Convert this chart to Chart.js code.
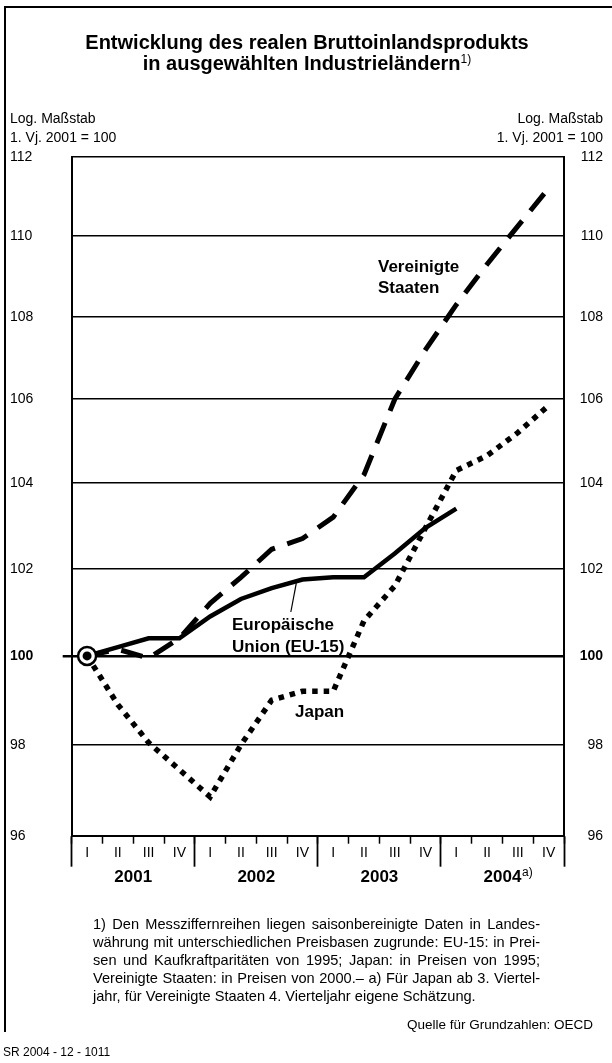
<!DOCTYPE html>
<html><head><meta charset="utf-8">
<script src="https://cdn.jsdelivr.net/npm/chart.js@4.4.1/dist/chart.umd.min.js"></script>
<style>
html,body{margin:0;padding:0;background:#fff;}
#wrap{position:relative;width:612px;height:1063px;overflow:hidden;font-family:"Liberation Sans",Arial,Helvetica,sans-serif;color:#000;background:#fff;}
canvas{position:absolute;left:0;top:0;}
.t{position:absolute;white-space:nowrap;line-height:20px;}
.b{font-weight:bold;}
.fn{position:absolute;left:93px;width:447px;font-size:14.6px;line-height:18px;white-space:nowrap;text-align:justify;text-align-last:justify;}
.fn.last{text-align:left;text-align-last:left;}
</style></head><body>
<div id="wrap">
<div style="position:absolute;left:4px;top:6px;width:608px;height:0;border-top:2.5px solid #000;"></div>
<div style="position:absolute;left:4px;top:6px;width:0;height:1026px;border-left:2.5px solid #000;"></div>
<canvas id="c" width="612" height="1063"></canvas>
<div class="t b" style="left:0;width:614px;text-align:center;top:32px;font-size:20px;">Entwicklung des realen Bruttoinlandsprodukts</div>
<div class="t b" style="left:0;width:614px;text-align:center;top:53px;font-size:20px;">in ausgewählten Industrieländern<span style="font-size:12px;font-weight:normal;position:relative;top:-7px;">1)</span></div>
<div class="t" style="left:10px;top:108px;font-size:14px;">Log. Maßstab</div>
<div class="t" style="left:10px;top:127px;font-size:14px;">1. Vj. 2001 = 100</div>
<div class="t" style="right:9px;top:108px;font-size:14px;text-align:right;">Log. Maßstab</div>
<div class="t" style="right:9px;top:127px;font-size:14px;text-align:right;">1. Vj. 2001 = 100</div>
<div class="t b" style="left:378px;top:257px;font-size:17px;">Vereinigte</div>
<div class="t b" style="left:378px;top:278px;font-size:17px;">Staaten</div>
<div class="t b" style="left:232px;top:615px;font-size:17px;">Europäische</div>
<div class="t b" style="left:232px;top:637px;font-size:17px;">Union (EU-15)</div>
<div class="t b" style="left:295px;top:702px;font-size:17px;">Japan</div>
<div id="sup" class="t" style="top:862px;font-size:12px;">a)</div>
<div class="fn" style="top:915px;">1) Den Messziffernreihen liegen saisonbereinigte Daten in Landes-</div>
<div class="fn" style="top:933px;">währung mit unterschiedlichen Preisbasen zugrunde: EU-15: in Prei-</div>
<div class="fn" style="top:951px;">sen und Kaufkraftparitäten von 1995; Japan: in Preisen von 1995;</div>
<div class="fn" style="top:969px;">Vereinigte Staaten: in Preisen von 2000.– a) Für Japan ab 3. Viertel-</div>
<div class="fn last" style="top:987px;">jahr, für Vereinigte Staaten 4. Vierteljahr eigene Schätzung.</div>
<div class="t" style="right:19px;top:1015px;font-size:13.5px;">Quelle für Grundzahlen: OECD</div>
<div class="t" style="left:3px;top:1042px;font-size:12px;">SR 2004 - 12 - 1011</div>
</div>
<script>
const quarterLabels = ['I','II','III','IV','I','II','III','IV','I','II','III','IV','I','II','III','IV'];
const yearLabels = ['2001','2002','2003','2004'];
const yTickValues = [96,98,100,102,104,106,108,110,112];
const euValues = [100, 100.2, 100.4, 100.4, 100.9, 101.3, 101.55, 101.75, 101.8, 101.8, 102.35, 102.95, 103.4, null, null, null];
const usValues = [100, 100.15, 99.95, 100.4, 101.2, 101.8, 102.45, 102.7, 103.2, 104.2, 106.0, 107.2, 108.3, 109.3, 110.25, 111.2];
const japanValues = [100, 98.9, 98.05, 97.45, 96.85, 98.0, 99.0, 99.2, 99.2, 100.8, 101.6, 102.95, 104.3, 104.65, 105.2, 105.85];
const baseValues = [100, null, null, null, null, null, null, null, null, null, null, null, null, null, null, null];

const FONT = '"Liberation Sans", Arial, Helvetica, sans-serif';

const leaderPlugin = {
  id: 'leader',
  afterLayout(chart) {
    const x = chart.scales.x;
    x.bottom = x.top + 30;
  },
  afterDatasetsDraw(chart) {
    const x = chart.scales.x, y = chart.scales.y, ctx = chart.ctx;
    const x0 = x.getPixelForValue(6), x1 = x.getPixelForValue(7);
    const y0 = y.getPixelForValue(euValues[6]), y1 = y.getPixelForValue(euValues[7]);
    const f = 0.8;
    const ex = x0 + (x1 - x0) * f, ey = y0 + (y1 - y0) * f + 2;
    ctx.save();
    ctx.strokeStyle = '#000'; ctx.lineWidth = 1.2;
    ctx.beginPath(); ctx.moveTo(ex - 5.5, 612); ctx.lineTo(ex, ey); ctx.stroke();
    ctx.restore();
  }
};

const chart = new Chart(document.getElementById('c'), {
  type: 'line',
  data: {
    labels: quarterLabels,
    datasets: [
      { label: 'dot', data: baseValues, borderWidth: 0, pointRadius: 4.5, pointBackgroundColor: '#000', pointBorderWidth: 0, showLine: false },
      { label: 'ring', data: baseValues, pointRadius: 9, pointBackgroundColor: '#fff', pointBorderColor: '#000', pointBorderWidth: 2.5, showLine: false },
      { label: 'Europäische Union (EU-15)', data: euValues, borderColor: '#000', borderWidth: 4.5, pointRadius: 0, tension: 0, spanGaps: false, borderCapStyle: 'butt' },
      { label: 'Vereinigte Staaten', data: usValues, borderColor: '#000', borderWidth: 5, borderDash: [22, 13], pointRadius: 0, tension: 0, borderCapStyle: 'butt' },
      { label: 'Japan', data: japanValues, borderColor: '#000', borderWidth: 5.5, borderDash: [5.5, 6], pointRadius: 0, tension: 0, borderCapStyle: 'butt' }
    ]
  },
  options: {
    responsive: false,
    animation: false,
    devicePixelRatio: 1,
    layout: { padding: { left: 10, right: 9, top: 156.7, bottom: 177.3 } },
    plugins: { legend: { display: false }, tooltip: { enabled: false }, title: { display: false } },
    scales: {
      x: {
        type: 'category', position: 'bottom', offset: true, weight: 0,
        grid: { offset: true, drawOnChartArea: false, drawTicks: true, tickLength: 8, tickColor: '#000', tickWidth: 1.5 },
        border: { display: true, color: '#000', width: 2 },
        ticks: { color: '#000', font: { family: FONT, size: 14 }, padding: 1, autoSkip: false, maxRotation: 0 },
        afterFit: s => { s.height = 0; }
      },
      x2: {
        type: 'category', labels: yearLabels, position: 'bottom', offset: true, weight: 1,
        grid: { offset: true, drawOnChartArea: false, drawTicks: true, tickLength: 31, tickColor: '#000', tickWidth: 1.8 },
        border: { display: false },
        ticks: { color: '#000', font: { family: FONT, size: 17, weight: 'bold' }, padding: 0, autoSkip: false, maxRotation: 0 },
        afterFit: s => { s.height = 50; }
      },
      y: {
        type: 'logarithmic', position: 'left', min: 96, max: 112,
        afterBuildTicks: a => { a.ticks = yTickValues.map(v => ({ value: v })); },
        grid: {
          color: '#000',
          lineWidth: c => (c.tick && c.tick.value === 100) ? 2.5 : 1.5,
          drawTicks: true, tickLength: 9,
          tickColor: c => (c.tick && c.tick.value === 100) ? '#000' : 'rgba(0,0,0,0)',
          tickWidth: 2.5
        },
        border: { display: true, color: '#000', width: 2 },
        ticks: {
          color: '#000', crossAlign: 'far', autoSkip: false,
          callback: v => String(v),
          font: c => ({ family: FONT, size: 14, weight: (c.tick && c.tick.value === 100) ? 'bold' : 'normal' })
        },
        afterFit: s => { s.width = 61.7; }
      },
      y2: {
        type: 'logarithmic', position: 'right', min: 96, max: 112,
        afterBuildTicks: a => { a.ticks = yTickValues.map(v => ({ value: v })); },
        grid: { drawOnChartArea: false, drawTicks: false },
        border: { display: true, color: '#000', width: 2 },
        ticks: {
          color: '#000', crossAlign: 'far', autoSkip: false,
          callback: v => String(v),
          font: c => ({ family: FONT, size: 14, weight: (c.tick && c.tick.value === 100) ? 'bold' : 'normal' })
        },
        afterFit: s => { s.width = 39; }
      }
    }
  },
  plugins: [leaderPlugin]
});

const x2 = chart.scales.x2;
const sup = document.getElementById('sup');
sup.style.left = (x2.getPixelForValue(3) + 19.5) + 'px';
</script>
</body></html>
